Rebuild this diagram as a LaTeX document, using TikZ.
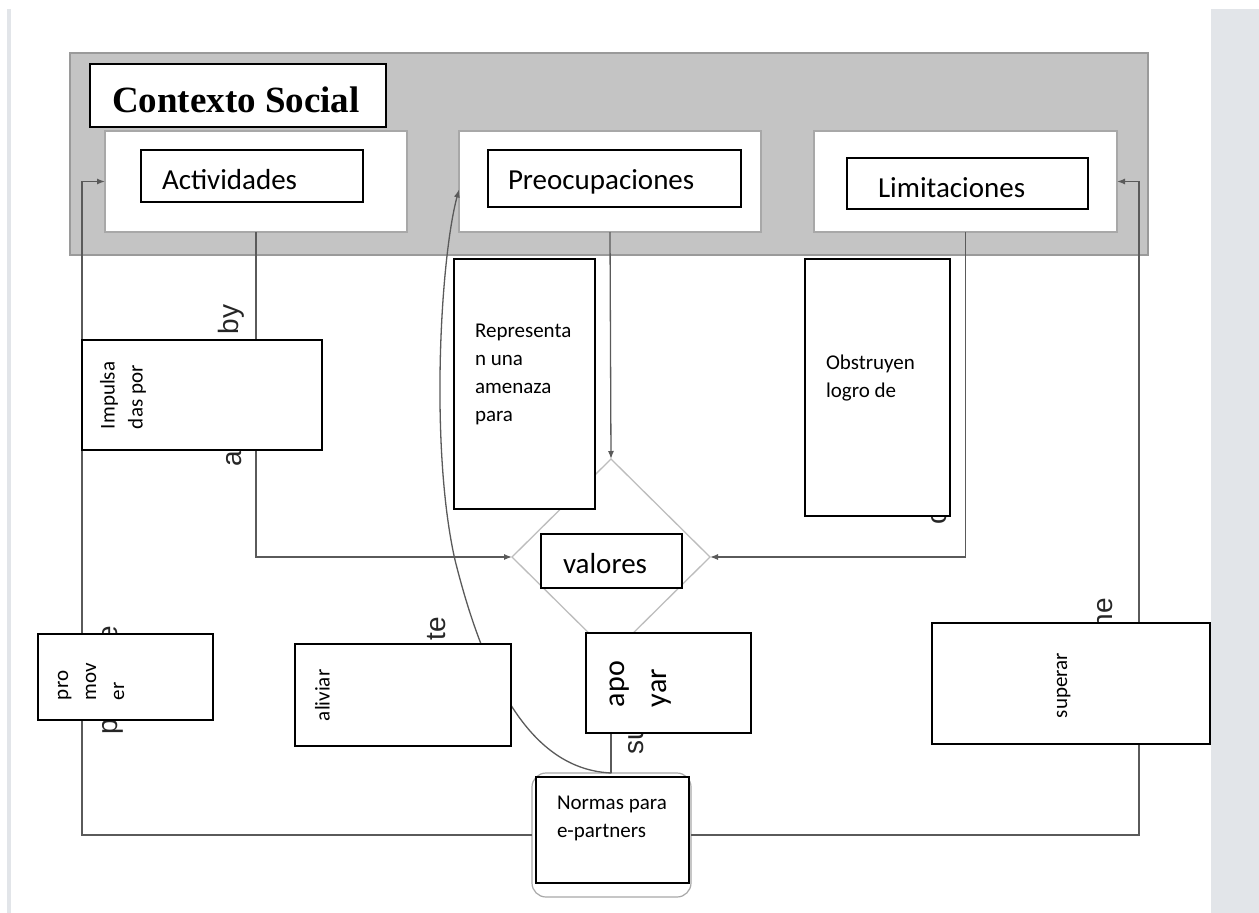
\documentclass[tikz,border=0pt]{standalone}
\usepackage{fontspec}
\setmainfont{Carlito}
\newfontfamily\fari{Liberation Sans}
\newfontfamily\fser{Liberation Serif}
\usetikzlibrary{shapes.geometric,arrows.meta}
\definecolor{panel}{HTML}{E2E5E9}
\definecolor{ctxgray}{HTML}{C4C4C4}
\definecolor{ctxedge}{HTML}{9A9A9A}
\definecolor{wedge}{HTML}{A8A8A8}
\definecolor{connc}{HTML}{5A5A5A}
\definecolor{diag}{HTML}{BDBDBD}
\begin{document}
\begin{tikzpicture}[x=1pt,y=-1pt,
  every node/.style={inner sep=0pt,outer sep=0pt},
  corner/.style={anchor=north west},
  blk/.style={corner,draw=black,line width=1.8pt,fill=white},
  wbox/.style={corner,draw=wedge,line width=1.2pt,fill=white},
  conn/.style={draw=connc,line width=1.3pt},
  arr/.style={conn,-{Latex[length=8pt,width=6pt]}},
  frag/.style={font=\fari\fontsize{28}{32}\selectfont,text=black!85,rotate=90},
  small/.style={font=\fontsize{21}{28}\selectfont,align=left},
  mid/.style={font=\fontsize{29}{35}\selectfont},
]
\fill[white] (0,0) rectangle (1259,913);
\useasboundingbox (0,0) rectangle (1259,913);
\fill[panel] (7,9) rectangle (11,913);
\fill[panel] (1211,9) rectangle (1259,913);

% context panel
\node[corner,draw=ctxedge,fill=ctxgray,line width=1.2pt,minimum width=1078pt,minimum height=202pt] (ctx) at (70,53) {};
\node[blk,line width=2pt,minimum width=296pt,minimum height=63pt] (ctxt) at (90,64) {};
\node[font=\fser\bfseries\fontsize{37}{40}\selectfont,anchor=base west] (tctx) at (112,112) {Contexto Social};

\node[wbox,minimum width=302pt,minimum height=101pt] (wact) at (105,131) {};
\node[wbox,minimum width=302pt,minimum height=101pt] (wpre) at (459,131) {};
\node[wbox,minimum width=303pt,minimum height=101pt] (wlim) at (814,131) {};

\node[blk,minimum width=222pt,minimum height=52pt] (bact) at (141,150) {};
\node[mid,anchor=base west] (tact) at (162,189) {Actividades};
\node[blk,minimum width=253pt,minimum height=57pt] (bpre) at (488,150) {};
\node[mid,anchor=base west] (tpre) at (508,189) {Preocupaciones};
\node[blk,minimum width=241pt,minimum height=51pt] (blim) at (847,158) {};
\node[mid,anchor=base west] (tlim) at (878,197) {Limitaciones};

% values diamond
\node[diamond,draw=diag,line width=1.3pt,minimum width=198pt,minimum height=196pt] (dia) at (611,557) {};

% bottom norms frame (drawn first so connectors can name it)
\node[corner,draw=wedge,line width=1.2pt,fill=white,rounded corners=14pt,minimum width=159pt,minimum height=124pt] (norm) at (532,773) {};

% connectors
\draw[arr] (wact.south) |- (dia.west);
\draw[arr] (wpre.south) -- (dia.north);
\draw[arr] (wlim.south) |- (dia.east);
\draw[arr] (norm.west) -| ([xshift=-23pt]wact.west) -- (wact.west);
\draw[arr] (norm.east) -| ([xshift=22pt]wlim.east) -- (wlim.east);
\draw[conn] (dia.south) -- (dia.south |- norm.north);
\draw[arr] (norm.north) .. controls (540,770) and (490,700) .. (455,560)
  .. controls (430,450) and (440,260) .. ([yshift=-8pt]wpre.west);

% fragments of covered labels
\node[frag,anchor=base west] (fby) at (238,334) {by};
\node[frag,anchor=base west] (fa) at (241,466) {a};
\node[frag,anchor=base west] (fp) at (117,734) {p};
\node[frag,anchor=base east] (fe) at (117,626) {e};
\node[frag,anchor=base east] (fte) at (445,617) {te};
\node[frag,anchor=base west] (fsu) at (643,754) {su};
\node[frag,anchor=base east] (fne) at (1112,598) {ne};
\node[frag,anchor=base west] (fo) at (946,524) {o};

% label boxes
\node[blk,minimum width=240pt,minimum height=110pt] (imp) at (82,340) {};
\node[small,rotate=90,anchor=north west] (timp) at (100,429) {Impulsa\\das por};

\node[blk,minimum width=141pt,minimum height=250pt] (rep) at (454,259) {};
\node[small,anchor=north west] (trep) at (475,324) {Representa\\n una\\amenaza\\para};

\node[blk,minimum width=145pt,minimum height=257pt] (obs) at (805,259) {};
\node[small,anchor=north west] (tobs) at (826,355) {Obstruyen\\logro de};

\node[blk,minimum width=141pt,minimum height=54pt] (valbox) at (541,534) {};
\node[mid,anchor=base west] (tval) at (563,573) {valores};

\node[blk,minimum width=175pt,minimum height=86pt] (prom) at (38,634) {};
\node[small,rotate=90,anchor=north west] (tprom) at (58,700) {pro\\mov\\er};

\node[blk,minimum width=216pt,minimum height=102pt] (ali) at (295,644) {};
\node[small,rotate=90,anchor=north west] (tali) at (315,721) {aliviar};

\node[blk,minimum width=165pt,minimum height=100pt] (apo) at (586,633) {};
\node[font=\fontsize{30}{42}\selectfont,align=left,rotate=90,anchor=north west] (tapo) at (610,707) {apo\\yar};

\node[blk,minimum width=278pt,minimum height=121pt] (sup) at (932,623) {};
\node[small,rotate=90,anchor=north west] (tsup) at (1057,718) {superar};

\node[blk,minimum width=153pt,minimum height=106pt] (normin) at (536,777) {};
\node[small,anchor=north west] (tnorm) at (557,796) {Normas para\\e-partners};
\end{tikzpicture}
\end{document}
